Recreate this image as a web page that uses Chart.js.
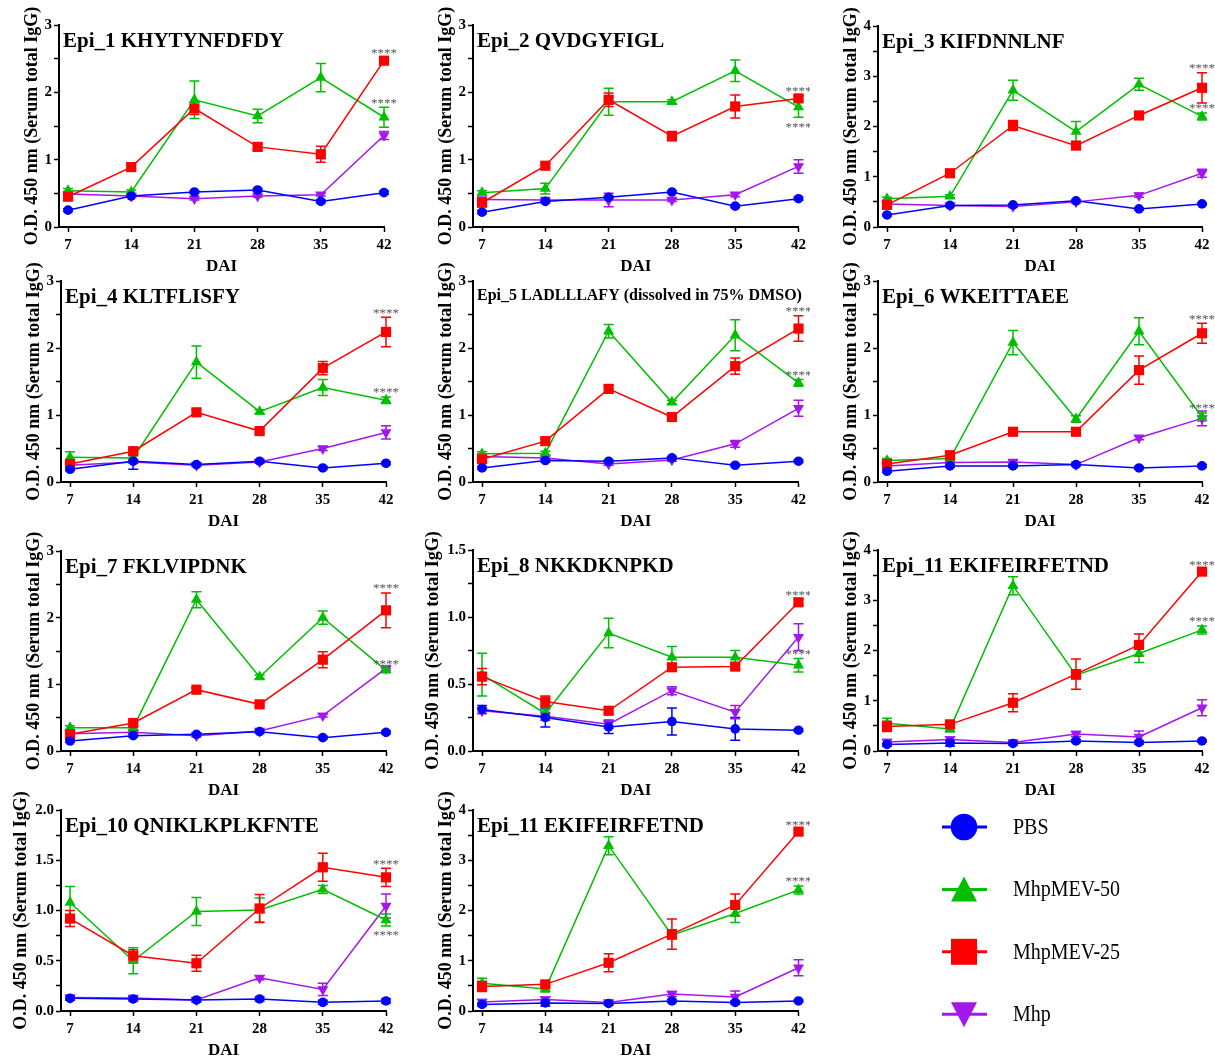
<!DOCTYPE html>
<html><head><meta charset="utf-8">
<script src="https://cdn.jsdelivr.net/npm/chart.js@4.4.0/dist/chart.umd.min.js"></script>
<style>
html,body{margin:0;padding:0;background:#fff;}
body{width:1215px;height:1063px;position:relative;overflow:hidden;}
canvas{position:absolute;}
</style></head><body>
<script>
// ---------- DATA ----------
const days = [7, 14, 21, 28, 35, 42];
const seriesNames = ['PBS', 'MhpMEV-50', 'MhpMEV-25', 'Mhp'];
const panelTitles = ['Epi_1 KHYTYNFDFDY', 'Epi_2 QVDGYFIGL', 'Epi_3 KIFDNNLNF', 'Epi_4 KLTFLISFY',
  'Epi_5 LADLLLAFY (dissolved in 75% DMSO)', 'Epi_6 WKEITTAEE', 'Epi_7 FKLVIPDNK', 'Epi_8 NKKDKNPKD',
  'Epi_11 EKIFEIRFETND', 'Epi_10 QNIKLKPLKFNTE', 'Epi_11 EKIFEIRFETND'];
const yAxisMax = [3, 3, 4, 3, 3, 3, 3, 1.5, 4, 2.0, 4];
const yAxisStep = [1, 1, 1, 1, 1, 1, 1, 0.5, 1, 0.5, 1];
const xAxisTitle = 'DAI';
const yAxisTitle = 'O.D. 450 nm (Serum total IgG)';
const sigLabel = '****';

// rows: PBS, MhpMEV-50, MhpMEV-25, Mhp
const epi1Mean = [[0.25,0.46,0.52,0.55,0.38,0.51],[0.54,0.52,1.89,1.65,2.22,1.63],[0.45,0.89,1.76,1.19,1.08,2.47],[0.49,0.46,0.42,0.46,0.48,1.36]];
const epi1Sem  = [[0.02,0.02,0.02,0.02,0.02,0.02],[0.03,0.03,0.28,0.10,0.21,0.15],[0.03,0.03,0.09,0.05,0.12,0.04],[0.02,0.02,0.02,0.02,0.02,0.06]];
const epi2Mean = [[0.22,0.38,0.44,0.52,0.31,0.42],[0.51,0.57,1.86,1.86,2.32,1.78],[0.36,0.91,1.89,1.35,1.79,1.91],[0.41,0.40,0.40,0.40,0.48,0.90]];
const epi2Sem  = [[0.02,0.02,0.02,0.02,0.02,0.02],[0.03,0.08,0.20,0.03,0.16,0.15],[0.03,0.03,0.10,0.07,0.17,0.04],[0.02,0.02,0.10,0.02,0.03,0.10]];
const epi3Mean = [[0.24,0.43,0.44,0.52,0.36,0.46],[0.56,0.61,2.72,1.90,2.84,2.20],[0.44,1.07,2.02,1.62,2.22,2.77],[0.46,0.43,0.41,0.50,0.63,1.07]];
const epi3Sem  = [[0.02,0.02,0.02,0.02,0.02,0.02],[0.03,0.03,0.20,0.20,0.12,0.07],[0.03,0.03,0.10,0.05,0.04,0.30],[0.02,0.02,0.02,0.02,0.04,0.08]];
const epi4Mean = [[0.19,0.31,0.26,0.31,0.21,0.28],[0.37,0.36,1.79,1.05,1.41,1.22],[0.27,0.46,1.04,0.76,1.70,2.24],[0.25,0.30,0.25,0.30,0.50,0.74]];
const epi4Sem  = [[0.02,0.12,0.02,0.02,0.02,0.02],[0.08,0.03,0.24,0.03,0.12,0.05],[0.03,0.03,0.04,0.03,0.10,0.22],[0.02,0.02,0.02,0.02,0.03,0.10]];
const epi5Mean = [[0.21,0.32,0.31,0.36,0.25,0.31],[0.42,0.43,2.25,1.19,2.19,1.48],[0.34,0.61,1.39,0.97,1.73,2.29],[0.38,0.36,0.27,0.33,0.57,1.10]];
const epi5Sem  = [[0.02,0.02,0.02,0.02,0.02,0.02],[0.03,0.03,0.10,0.03,0.23,0.05],[0.03,0.03,0.06,0.03,0.12,0.19],[0.02,0.02,0.02,0.02,0.05,0.12]];
const epi6Mean = [[0.16,0.24,0.24,0.26,0.21,0.24],[0.32,0.35,2.08,0.94,2.25,0.97],[0.27,0.40,0.75,0.75,1.67,2.22],[0.24,0.29,0.30,0.26,0.66,0.95]];
const epi6Sem  = [[0.02,0.02,0.02,0.02,0.02,0.02],[0.03,0.03,0.18,0.05,0.20,0.06],[0.03,0.03,0.04,0.03,0.21,0.15],[0.02,0.02,0.03,0.02,0.03,0.11]];
const epi7Mean = [[0.15,0.23,0.25,0.29,0.20,0.28],[0.35,0.35,2.27,1.11,2.00,1.21],[0.25,0.42,0.92,0.70,1.37,2.11],[0.26,0.28,0.23,0.30,0.53,1.24]];
const epi7Sem  = [[0.02,0.02,0.02,0.02,0.02,0.02],[0.03,0.03,0.12,0.03,0.10,0.03],[0.03,0.03,0.03,0.03,0.12,0.26],[0.02,0.02,0.02,0.02,0.02,0.03]];
const epi8Mean = [[0.31,0.25,0.18,0.22,0.165,0.155],[0.57,0.28,0.88,0.70,0.70,0.64],[0.555,0.37,0.30,0.625,0.63,1.11],[0.30,0.26,0.20,0.45,0.29,0.85]];
const epi8Sem  = [[0.03,0.07,0.05,0.10,0.085,0.01],[0.16,0.03,0.11,0.08,0.05,0.05],[0.06,0.04,0.02,0.02,0.02,0.02],[0.02,0.03,0.03,0.03,0.05,0.10]];
const epi10Mean = [[0.126,0.12,0.11,0.12,0.086,0.10],[1.08,0.50,0.99,1.005,1.21,0.905],[0.92,0.55,0.475,1.02,1.43,1.33],[0.135,0.13,0.11,0.33,0.215,1.045]];
const epi10Sem  = [[0.02,0.02,0.02,0.02,0.02,0.02],[0.16,0.13,0.14,0.12,0.04,0.06],[0.08,0.06,0.08,0.14,0.14,0.09],[0.02,0.02,0.02,0.02,0.06,0.12]];
const epi11Mean = [[0.13,0.16,0.15,0.20,0.17,0.20],[0.55,0.44,3.29,1.51,1.94,2.41],[0.49,0.53,0.96,1.53,2.11,3.57],[0.18,0.23,0.17,0.34,0.28,0.86]];
const epi11Sem  = [[0.03,0.06,0.03,0.03,0.03,0.02],[0.10,0.06,0.18,0.08,0.18,0.08],[0.10,0.05,0.18,0.30,0.22,0.04],[0.05,0.05,0.04,0.05,0.12,0.16]];

// significance marks at day 42: [series, side]
const sigStd = [['MhpMEV-25','above'],['MhpMEV-50','above']];
const sigLow = [['MhpMEV-25','above'],['MhpMEV-50','below']];

const panelMeans = [epi1Mean, epi2Mean, epi3Mean, epi4Mean, epi5Mean, epi6Mean, epi7Mean, epi8Mean, epi11Mean, epi10Mean, epi11Mean];
const panelSems  = [epi1Sem, epi2Sem, epi3Sem, epi4Sem, epi5Sem, epi6Sem, epi7Sem, epi8Sem, epi11Sem, epi10Sem, epi11Sem];
const panelSig   = [sigStd, sigLow, sigStd, sigStd, sigStd, sigStd, sigStd, sigStd, sigStd, sigLow, sigStd];

// ---------- STYLE / LAYOUT ----------
const FONT = "'Liberation Serif','Times New Roman',serif";
const COLORS = ['#0000FF', '#00BE00', '#FF0000', '#A416EE'];
const PSTYLE = ['circle', 'triangle', 'rect', 'triangle'];
const PROT = [0, 0, 0, 180];
const PRAD = [4.8, 6.4, 7.2, 6.4];
const ORDER = [0, 2, 1, 3];
const GEOM = [
  {colX:0,   L:59,  R:384,  T:25,  B:227},
  {colX:405, L:473, R:799,  T:25,  B:227},
  {colX:810, L:878, R:1202, T:26,  B:227},
  {colX:0,   L:61,  R:386,  T:281, B:482},
  {colX:405, L:473, R:799,  T:281, B:482},
  {colX:810, L:878, R:1202, T:281, B:482},
  {colX:0,   L:61,  R:386,  T:551, B:751},
  {colX:405, L:473, R:799,  T:550, B:751},
  {colX:810, L:878, R:1202, T:550, B:751},
  {colX:0,   L:61,  R:386,  T:810, B:1011},
  {colX:405, L:473, R:799,  T:810, B:1011}
];

Chart.defaults.font.family = FONT;

const errorBars = {
  id: 'errorBars',
  beforeDatasetsDraw(chart) {
    const {ctx} = chart; const x = chart.scales.x, y = chart.scales.y;
    chart.data.datasets.forEach(ds => {
      if (!ds.sem) return;
      ctx.save(); ctx.strokeStyle = ds.borderColor; ctx.lineWidth = 1.5;
      ds.data.forEach((p, i) => {
        const e = ds.sem[i]; if (!e) return;
        const px = x.getPixelForValue(p.x);
        const y1 = y.getPixelForValue(p.y + e), y2 = y.getPixelForValue(Math.max(0, p.y - e));
        ctx.beginPath();
        ctx.moveTo(px, y1); ctx.lineTo(px, y2);
        ctx.moveTo(px - 5, y1); ctx.lineTo(px + 5, y1);
        ctx.moveTo(px - 5, y2); ctx.lineTo(px + 5, y2);
        ctx.stroke();
      });
      ctx.restore();
    });
  }
};

const panelDeco = {
  id: 'panelDeco',
  afterDraw(chart, args, opts) {
    const {ctx, chartArea} = chart; const x = chart.scales.x, y = chart.scales.y;
    ctx.save();
    ctx.fillStyle = '#000';
    ctx.font = 'bold ' + opts.titleSize + 'px ' + FONT;
    ctx.textAlign = 'left'; ctx.textBaseline = 'middle';
    ctx.fillText(opts.title, chartArea.left + 4, chartArea.top + opts.titleDy);
    ctx.font = '13px ' + FONT; ctx.fillStyle = '#555'; ctx.textAlign = 'center';
    (opts.sig || []).forEach(([name, side]) => {
      const ds = chart.data.datasets.find(d => d.label === name);
      const n = ds.data.length - 1; const p = ds.data[n]; const e = ds.sem[n] || 0;
      const px = x.getPixelForValue(p.x);
      let py = side === 'above' ? y.getPixelForValue(p.y + e) - 7 : y.getPixelForValue(p.y - e) + 7;
      ctx.fillText(sigLabel, px, py + 3);
    });
    ctx.restore();
  }
};

panelTitles.forEach((title, k) => {
  const g = GEOM[k];
  const top = g.T - 25;
  const h = g.B + 50 - top;
  const cv = document.createElement('canvas');
  cv.width = 405; cv.height = h;
  cv.style.left = g.colX + 'px'; cv.style.top = top + 'px';
  cv.style.width = '405px'; cv.style.height = h + 'px';
  document.body.appendChild(cv);
  const means = panelMeans[k], sems = panelSems[k];
  const ymax = yAxisMax[k], ystep = yAxisStep[k];
  const dec = ystep < 1 ? 1 : 0;
  const titleGap = dec ? 40 : 27;
  const datasets = seriesNames.map((name, s) => ({
    label: name,
    data: days.map((d, i) => ({x: d, y: means[s][i]})),
    sem: sems[s],
    borderColor: COLORS[s], backgroundColor: COLORS[s],
    pointBackgroundColor: COLORS[s], pointBorderColor: COLORS[s],
    pointStyle: PSTYLE[s], pointRotation: PROT[s], pointRadius: PRAD[s], pointBorderWidth: 0,
    borderWidth: 1.5, tension: 0, clip: false, order: ORDER[s]
  }));
  new Chart(cv, {
    type: 'line',
    data: {datasets},
    options: {
      responsive: false, animation: false, devicePixelRatio: 1,
      layout: {autoPadding: false, padding: {left: 0, top: g.T - top, right: g.colX + 405 - g.R, bottom: 0}},
      plugins: {legend: {display: false}, tooltip: {enabled: false},
        panelDeco: {title, titleSize: k === 4 ? 16 : 21, titleDy: k === 4 ? 15 : 17, sig: panelSig[k]}},
      scales: {
        x: {
          type: 'linear', min: 6, max: 42,
          afterFit: s => { s.height = 50; },
          afterBuildTicks: s => { s.ticks = days.map(v => ({value: v})); },
          ticks: {autoSkip: false, maxRotation: 0, padding: 4, color: '#000', font: {size: 15, weight: 'bold'}},
          grid: {drawOnChartArea: false, drawTicks: true, tickLength: 5, tickWidth: 1.5, tickColor: '#000', color: '#000'},
          border: {display: true, color: '#000', width: 2},
          title: {display: true, text: xAxisTitle, color: '#000', font: {size: 17, weight: 'bold'}, padding: {top: 0, bottom: 0}}
        },
        y: {
          type: 'linear', min: 0, max: ymax,
          afterFit: s => { s.width = g.L - g.colX; },
          afterBuildTicks: s => {
            const t = [];
            for (let i = 0; i <= Math.round(ymax / ystep * 2); i++) t.push({value: +(i * ystep / 2).toFixed(4)});
            s.ticks = t;
          },
          ticks: {autoSkip: false, padding: 2, color: '#000', font: {size: 15, weight: 'bold'},
            callback: (v) => (Math.abs(v / ystep - Math.round(v / ystep)) < 1e-6 ? Number(v).toFixed(dec) : '')},
          grid: {drawOnChartArea: false, drawTicks: true, tickLength: 5, tickWidth: 1.5, tickColor: '#000', color: '#000'},
          border: {display: true, color: '#000', width: 2},
          title: {display: true, text: yAxisTitle, color: '#000', font: {size: 18, weight: 'bold'},
            padding: {top: g.L - titleGap - g.colX - 10.8, bottom: 0}}
        }
      }
    },
    plugins: [errorBars, panelDeco]
  });
});

// ---------- LEGEND ----------
const legendDraw = {
  id: 'legendDraw',
  afterDraw(chart) {
    const {ctx} = chart;
    ctx.save();
    chart.data.datasets.forEach((ds, i) => {
      const cy = 37 + i * 62.4, cx = 64;
      ctx.strokeStyle = ds.borderColor; ctx.lineWidth = 3;
      ctx.beginPath(); ctx.moveTo(42, cy); ctx.lineTo(87, cy); ctx.stroke();
      ctx.fillStyle = ds.backgroundColor;
      ctx.beginPath();
      if (ds.pointStyle === 'circle') { ctx.arc(cx, cy, 13.3, 0, Math.PI * 2); }
      else if (ds.pointStyle === 'rect') { ctx.rect(cx - 13, cy - 13, 26, 26); }
      else if (ds.pointRotation === 180) { ctx.moveTo(cx - 13, cy - 12); ctx.lineTo(cx + 13, cy - 12); ctx.lineTo(cx, cy + 13); ctx.closePath(); }
      else { ctx.moveTo(cx - 13, cy + 12); ctx.lineTo(cx + 13, cy + 12); ctx.lineTo(cx, cy - 13); ctx.closePath(); }
      ctx.fill();
      ctx.save();
      ctx.translate(113, cy + 1); ctx.scale(1, 1.15);
      ctx.fillStyle = '#000'; ctx.font = '20px ' + FONT; ctx.textAlign = 'left'; ctx.textBaseline = 'middle';
      ctx.fillText(ds.label, 0, 0);
      ctx.restore();
    });
    ctx.restore();
  }
};
const lc = document.createElement('canvas');
lc.width = 315; lc.height = 273; lc.style.left = '900px'; lc.style.top = '790px';
document.body.appendChild(lc);
new Chart(lc, {
  type: 'line',
  data: {datasets: seriesNames.map((name, s) => ({label: name, data: [], borderColor: COLORS[s], backgroundColor: COLORS[s], pointStyle: PSTYLE[s], pointRotation: PROT[s]}))},
  options: {responsive: false, animation: false, devicePixelRatio: 1,
    plugins: {legend: {display: false}, tooltip: {enabled: false}},
    scales: {x: {display: false}, y: {display: false}}},
  plugins: [legendDraw]
});
</script>
</body></html>
